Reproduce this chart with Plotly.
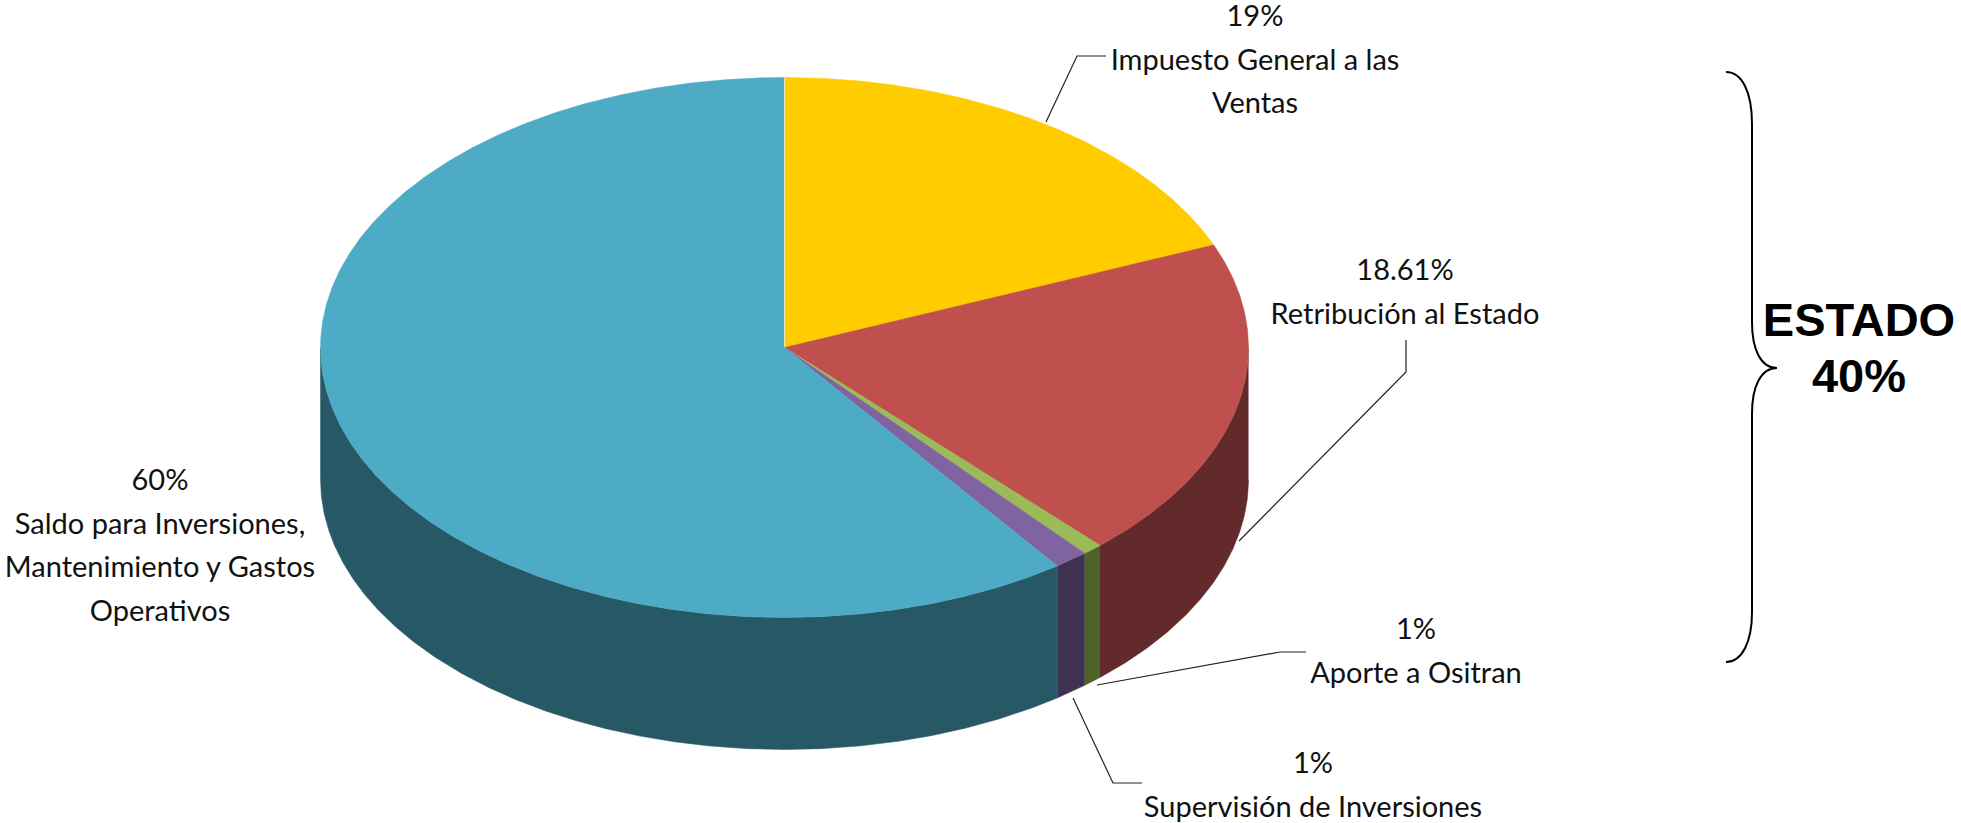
import numpy as np
import plotly.graph_objects as go

# Data
categories = ["Impuesto General a las Ventas", "Retribución al Estado", "Aporte a Ositran",
              "Supervisión de Inversiones", "Saldo para Inversiones, Mantenimiento y Gastos Operativos"]
drawn_shares = [18.8, 19.3, 0.7, 1.2, 60.0]
percent_labels = ["19%", "18.61%", "1%", "1%", "60%"]
top_colors = ["#FFCC00", "#C0504D", "#9BBB59", "#8064A2", "#4DABC6"]
side_colors = ["#806600", "#622A2A", "#4F6228", "#403152", "#275866"]

label_lines = [
    ["19%", "Impuesto General a las", "Ventas"],
    ["18.61%", "Retribución al Estado"],
    ["1%", "Aporte a Ositran"],
    ["1%", "Supervisión de Inversiones"],
    ["60%", "Saldo para Inversiones,", "Mantenimiento y Gastos", "Operativos"],
]
label_x = [1255, 1405, 1416, 1313, 160]
label_y = [19, 273, 632, 766, 483]
line_pitch = 43.5

leaders = [
    ([1046, 1077, 1106], [122, 56, 56]),
    ([1406, 1406, 1239], [340, 372, 541]),
    ([1097, 1280, 1306], [685, 652, 652]),
    ([1073, 1113, 1142], [698, 783, 783]),
]

CX, CY, RX, RY, DEPTH = 784.5, 347.5, 464, 270, 132


def rim(t0, t1):
    t = np.radians(np.linspace(t0, t1, max(3, int(abs(t1 - t0) * 3))))
    return CX + RX * np.sin(t), CY - RY * np.cos(t)


fig = go.Figure()
edges = np.concatenate([[0], np.cumsum(drawn_shares)]) * 3.6

# side walls: only the front half of the rim (90..270 degrees) is visible
for i, c in enumerate(side_colors):
    a, b = max(edges[i], 90), min(edges[i + 1], 270)
    if b <= a:
        continue
    x, y = rim(a, b)
    fig.add_trace(go.Scatter(
        x=np.concatenate([x, x[::-1]]), y=np.concatenate([y, y[::-1] + DEPTH]),
        mode="lines", fill="toself", fillcolor=c, line=dict(color=c, width=0.5),
        hoverinfo="skip", showlegend=False))

# top faces
for i, c in enumerate(top_colors):
    x, y = rim(edges[i], edges[i + 1])
    fig.add_trace(go.Scatter(
        x=np.concatenate([[CX], x, [CX]]), y=np.concatenate([[CY], y, [CY]]),
        mode="lines", fill="toself", fillcolor=c, line=dict(color=c, width=0.5),
        name=categories[i], hoverinfo="name", showlegend=False))

# seam at 12 o'clock
fig.add_trace(go.Scatter(x=[CX, CX], y=[CY, CY - RY], mode="lines",
                         line=dict(color="#E8E4B0", width=1), hoverinfo="skip", showlegend=False))

# leader lines
for lx, ly in leaders:
    fig.add_trace(go.Scatter(x=lx, y=ly, mode="lines", line=dict(color="#222222", width=1.2),
                             hoverinfo="skip", showlegend=False))

# labels
tx, ty, tt = [], [], []
for lines, x0, y0 in zip(label_lines, label_x, label_y):
    for k, s in enumerate(lines):
        tx.append(x0); ty.append(y0 + k * line_pitch); tt.append(s)
fig.add_trace(go.Scatter(x=tx, y=ty, text=tt, mode="text", textposition="middle center",
                         textfont=dict(family="Lato", size=29, color="#111111"),
                         hoverinfo="skip", showlegend=False))

fig.add_trace(go.Scatter(x=[1859, 1859], y=[324, 380], text=["ESTADO", "40%"], mode="text",
                         textposition="middle center",
                         textfont=dict(family="Liberation Sans", size=47, color="#000000", weight="bold"),
                         hoverinfo="skip", showlegend=False))

brace = ("M 1726 72 C 1742 72 1752 92 1752 124 L 1752 322 C 1752 350 1761 368 1777 368 "
         "C 1761 368 1752 386 1752 414 L 1752 612 C 1752 642 1742 662 1726 662")
fig.add_shape(type="path", path=brace, line=dict(color="#000000", width=2), xref="x", yref="y")

fig.update_layout(
    width=1961, height=823, margin=dict(l=0, r=0, t=0, b=0),
    paper_bgcolor="white", plot_bgcolor="white",
    xaxis=dict(range=[0, 1961], visible=False, fixedrange=True),
    yaxis=dict(range=[823, 0], visible=False, fixedrange=True),
)
fig.write_html("out.html", config={"displayModeBar": False},
               post_script="document.body.style.margin='0';document.body.style.overflow='hidden';")
